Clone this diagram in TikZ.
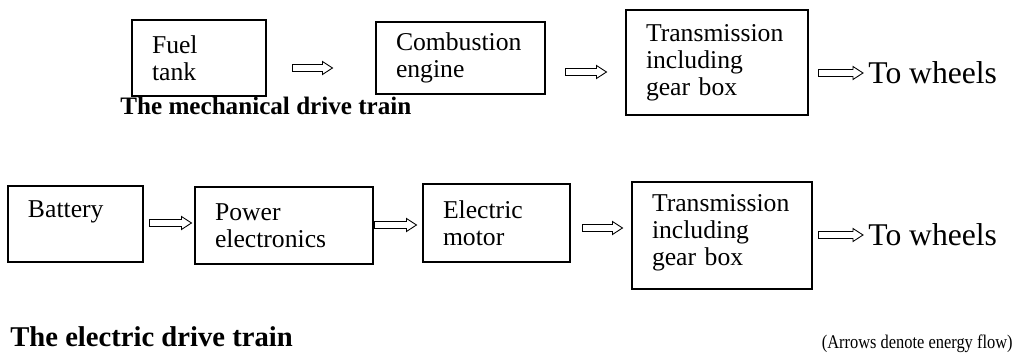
\documentclass[tikz,border=0pt]{standalone}
\usepackage{fontspec}
\setmainfont{Liberation Serif}
\newfontfamily\narrowserif[FakeStretch=0.85]{Liberation Serif}
\usetikzlibrary{calc}

\begin{document}
\begin{tikzpicture}[
	blk/.style={draw,rectangle,line width=0.6pt,align=left,inner xsep=0.4cm,inner ysep=2pt,
		font=\fontsize{14.6}{15.4}\selectfont},
	flow/.style={draw,line width=0.5pt,to path={
		let \p1=(\tikztostart), \p2=(\tikztotarget) in
		(\x1,\y1+0.07cm) -- (\x2-0.2cm,\y1+0.07cm) -- (\x2-0.2cm,\y1+0.13cm)
		-- (\x2,\y1) -- (\x2-0.2cm,\y1-0.13cm) -- (\x2-0.2cm,\y1-0.07cm)
		-- (\x1,\y1-0.07cm) -- cycle}},
	goal/.style={inner sep=0pt,anchor=west,font=\fontsize{18}{20}\selectfont},
	title/.style={inner sep=0pt,anchor=base west,font=\bfseries}]
	
	\useasboundingbox (0,0) rectangle (20.4,7.22);
	
	% mechanikus lanc
	\node[blk,text width=1.88cm,minimum height=1.52cm] (fuel) at (3.98,6.06) {Fuel\\tank};
	\node[blk,text width=2.58cm,minimum height=1.44cm] (engine) at (9.21,6.06) {Combustion\\engine};
	\node[blk,text width=2.84cm,minimum height=2.10cm] (trans1) at (14.34,5.97) {Transmission\\including\\gear box};
	\node[goal] (wheels1) at (17.36,5.76) {To wheels};
	
	% elektromos lanc
	\node[blk,text width=1.90cm,minimum height=1.52cm,text depth=0.6cm] (battery) at (1.51,2.74) {Battery};
	\node[blk,text width=2.76cm,minimum height=1.54cm] (power) at (5.68,2.71) {Power\\electronics};
	\node[blk,text width=2.14cm,minimum height=1.56cm] (motor) at (9.93,2.76) {Electric\\motor};
	\node[blk,text width=2.80cm,minimum height=2.14cm,text depth=1.29cm] (trans2) at (14.44,2.51) {Transmission\\including\\gear box};
	\node[goal] (wheels2) at (17.36,2.52) {To wheels};
	
	% nyilak
	\draw[flow] ([shift={(0.52,-0.2)}]fuel.east) to ([shift={(-0.86,-0.2)}]engine.west);
	\draw[flow] ([shift={(0.4,-0.28)}]engine.east) to ([shift={(-0.38,-0.19)}]trans1.west);
	\draw[flow] ([shift={(0.2,-0.21)}]trans1.east) to ([shift={(-0.1,0)}]wheels1.west);
	\draw[flow] ([shift={(0.12,0.02)}]battery.east) to ([shift={(-0.06,0.05)}]power.west);
	\draw[flow] ([shift={(0.02,0.01)}]power.east) to ([shift={(-0.12,-0.04)}]motor.west);
	\draw[flow] ([shift={(0.24,-0.1)}]motor.east) to ([shift={(-0.18,0.15)}]trans2.west);
	\draw[flow] ([shift={(0.12,0.01)}]trans2.east) to ([shift={(-0.1,0)}]wheels2.west);
	
	% feliratok
	\node[title,font=\fontsize{14.3}{17}\selectfont\bfseries] (mechtitle) at (2.4,4.92) {The mechanical drive train};
	\node[title,font=\fontsize{16.3}{19}\selectfont\bfseries] (electitle) at (0.2,0.28) {The electric drive train};
	\node[inner sep=0pt,anchor=base east,font=\fontsize{11}{13}\narrowserif] (note) at (20.26,0.24) {(Arrows denote energy flow)};
\end{tikzpicture}
\end{document}
